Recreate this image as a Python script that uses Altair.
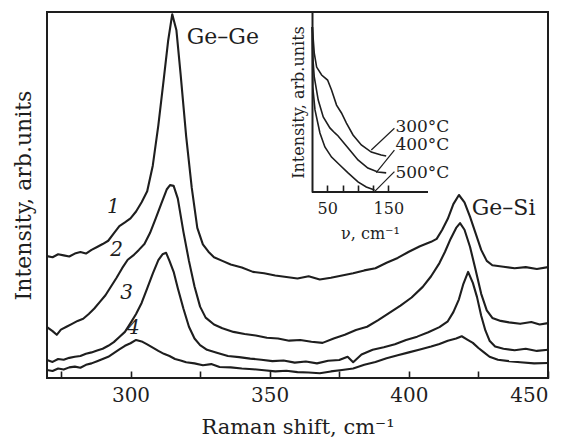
import altair as alt
import pandas as pd

FONT = "DejaVu Serif"
INK = "#1e1e1e"

# ---------------- main spectra (Raman shift, cm-1 ; intensity arb. units) ----------------
c1_x = [270, 272, 274, 276, 278, 280, 282, 284, 286, 288, 290, 292, 294, 296, 298, 300, 302, 304, 306, 308,
        310, 312, 313.5, 315, 316.5, 318, 320, 322, 324, 326, 328, 330, 333, 336, 340, 344, 348, 352, 356, 360,
        364, 368, 372, 376, 380, 384, 388, 392, 396, 400, 404, 408, 410, 412, 414, 416, 418, 420, 422, 424,
        426, 428, 430, 434, 438, 442, 446, 450]
c1_y = [33.3, 33.0, 33.8, 33.5, 33.2, 34.0, 34.4, 34.0, 35.0, 35.8, 36.6, 37.5, 39.5, 41.5, 42.5, 43.6, 45.5, 48.0, 51.0, 58.0,
        69.0, 82.0, 92.0, 99.4, 95.0, 83.0, 66.0, 52.0, 41.0, 36.5, 34.5, 33.0, 32.0, 31.0, 30.2, 29.0, 28.6, 28.0, 27.6, 27.2,
        27.8, 26.9, 27.4, 28.0, 28.6, 29.4, 30.0, 31.5, 32.8, 34.5, 36.0, 37.2, 38.0, 40.5, 43.5, 47.5, 50.0, 48.0, 44.0, 39.5,
        35.0, 32.0, 30.8, 30.4, 30.0, 30.3, 29.8, 30.3]

c2_x = [270, 272, 273.5, 275, 277, 279, 281, 283, 285, 287, 289, 291, 293, 295, 297, 299, 301, 303, 305, 307,
        309, 311, 313, 314.2, 315.5, 317, 319, 321, 323, 325, 327, 330, 333, 337, 341, 345, 349, 353, 357, 361,
        365, 369, 373, 377, 381, 385, 389, 393, 397, 401, 405, 408, 411, 413, 415, 417, 418.4, 420, 422, 424,
        426, 428, 430, 433, 436, 440, 444, 447, 450]
c2_y = [13.9, 12.8, 11.8, 13.2, 14.0, 14.8, 15.6, 16.2, 17.5, 19.0, 20.8, 22.6, 25.0, 27.4, 30.0, 32.3, 33.5, 35.0, 36.6, 39.6,
        43.5, 47.5, 51.5, 52.7, 52.5, 49.0, 40.0, 32.0, 25.0, 19.5, 16.5, 14.6, 13.6, 12.6, 12.0, 11.6, 11.0, 10.8, 10.2, 10.4,
        9.9, 9.6, 10.8, 11.8, 13.1, 14.0, 15.8, 17.8, 19.8, 22.0, 24.9, 27.8, 31.4, 34.5, 38.0, 41.0, 42.3, 40.5, 35.8, 29.5,
        23.0, 18.5, 16.4, 15.6, 15.2, 14.8, 15.3, 14.6, 15.0]

c3_x = [270, 272, 274, 276, 278, 280, 282, 284, 286, 288, 290, 292, 294, 296, 298, 300, 302, 304, 306, 308,
        310, 311.5, 312.8, 314, 315.5, 317, 319, 321, 323, 325, 327.5, 331, 335, 339, 343, 347, 351, 355, 359, 363,
        367, 371, 375, 378, 380, 383, 387, 391, 395, 399, 403, 407, 411, 414, 416, 418, 419.5, 421.3, 423, 424.5,
        426, 427.5, 429, 431, 434, 438, 442, 446, 450]
c3_y = [4.9, 4.4, 5.2, 5.0, 5.5, 5.8, 6.0, 6.6, 7.0, 7.5, 8.0, 8.8, 9.8, 11.2, 12.6, 15.0, 17.5, 20.5, 24.5, 28.5,
        32.2, 33.8, 34.2, 32.0, 29.0, 24.5, 19.0, 14.0, 10.8, 9.0, 7.7, 6.9, 6.0, 5.7, 5.3, 5.0, 4.6, 4.8, 4.2, 4.5,
        4.0, 4.7, 4.9, 5.8, 4.3, 6.4, 7.7, 8.4, 9.2, 10.4, 11.3, 12.5, 13.9, 15.5, 18.0, 21.5, 25.5, 29.0, 26.0, 22.1,
        17.0, 13.0, 10.2, 8.6, 8.0, 7.6, 8.0, 7.4, 7.7]

c4_x = [270, 272, 274, 276, 278, 280, 282, 284, 286, 288, 290, 292, 294, 296, 298, 300, 302, 304, 306, 308,
        310, 312, 314, 316, 318, 320, 323, 326, 329, 332, 336, 340, 344, 348, 352, 356, 360, 364, 368, 372,
        376, 380, 384, 388, 392, 396, 400, 404, 408, 411, 414, 417, 419, 421, 423, 425, 427, 429, 432, 436,
        440, 445, 450]
c4_y = [2.2, 1.9, 2.6, 2.3, 2.9, 3.1, 2.8, 3.6, 4.0, 4.6, 5.2, 5.8, 6.8, 7.8, 8.8, 9.5, 10.4, 10.0, 9.2, 8.3,
        7.4, 6.6, 6.0, 5.2, 4.8, 4.3, 4.0, 3.5, 3.8, 3.0, 2.9, 2.6, 2.4, 2.1, 1.8, 2.0, 1.6, 1.5, 1.3, 1.8,
        2.2, 2.6, 3.6, 4.4, 5.4, 6.2, 7.0, 7.8, 8.6, 9.3, 10.2, 10.8, 11.4, 10.5, 9.6, 8.2, 7.0, 5.8, 5.0, 4.6,
        4.3, 4.0, 4.1]

curve_names = ["1", "2", "3", "4"]
curve_label_x = [293.8, 295.0, 298.6, 301.0]
curve_label_y = [46.8, 35.0, 23.1, 13.6]

peak_names = ["Ge\u2013Ge", "Ge\u2013Si"]
peak_label_x = [320.2, 422.6]
peak_label_y = [93.2, 46.4]

main_ticks = [275, 300, 325, 350, 375, 400, 425, 450]

# ---------------- inset (low-frequency spectra) ----------------
i300_x = [25.5, 28.7, 32.6, 40.8, 50.5, 57.0, 65.2, 73.3, 81.4, 92.2, 105.8, 122.1, 138.3, 146.5]
i300_y = [91.7, 77.2, 69.4, 65.0, 62.2, 56.7, 48.3, 43.9, 38.3, 31.7, 26.1, 22.2, 20.6, 20.0]
i400_x = [25.5, 26.3, 28.7, 35.2, 43.4, 54.3, 62.4, 67.8, 75.9, 86.8, 100.3, 116.5, 132.8, 146.5]
i400_y = [91.7, 75.0, 63.9, 51.1, 41.7, 35.6, 32.8, 31.1, 27.8, 23.3, 17.8, 13.3, 11.1, 10.6]
i500_x = [25.5, 26.3, 29.9, 38.0, 46.1, 57.0, 70.5, 84.0, 100.3, 113.9, 127.4]
i500_y = [91.7, 58.3, 45.6, 32.8, 25.0, 19.4, 15.0, 10.6, 5.6, 2.8, 1.1]

inset_names = ["300\u00b0C", "400\u00b0C", "500\u00b0C"]
inset_label_x = [161.6, 161.6, 161.6]
inset_label_y = [36.3, 26.1, 10.6]
leader_x1 = [160.0, 160.0, 160.0]
leader_y1 = [35.4, 23.3, 11.3]
leader_x2 = [122.1, 130.2, 127.4]
leader_y2 = [23.3, 10.7, 0.2]
inset_ticks = [50, 75, 100, 125, 150]

# ---------------- tables ----------------
rows = []
for name, xs, ys in zip(curve_names, [c1_x, c2_x, c3_x, c4_x], [c1_y, c2_y, c3_y, c4_y]):
    rows += [{"curve": name, "x": a, "y": b} for a, b in zip(xs, ys)]
main_df = pd.DataFrame(rows)
num_df = pd.DataFrame({"t": curve_names, "x": curve_label_x, "y": curve_label_y})
peak_df = pd.DataFrame({"t": peak_names, "x": peak_label_x, "y": peak_label_y})

irows = []
for name, xs, ys in zip(inset_names, [i300_x, i400_x, i500_x], [i300_y, i400_y, i500_y]):
    irows += [{"curve": name, "x": a, "y": b} for a, b in zip(xs, ys)]
inset_df = pd.DataFrame(irows)
ilab_df = pd.DataFrame({"t": inset_names, "x": inset_label_x, "y": inset_label_y})
lead_df = pd.DataFrame({"x": leader_x1, "y": leader_y1, "x2": leader_x2, "y2": leader_y2})
base_df = pd.DataFrame({"x": [25], "x2": [215], "y": [0]})

W, H = 501, 366


def xs_main():
    return alt.Scale(domain=[270, 450], nice=False, zero=False)


def ys_main():
    return alt.Scale(domain=[0, 100], nice=False, zero=False)


def xs_in():
    return alt.Scale(domain=[25, 215], range=[265, 381], nice=False, zero=False)


def ys_in():
    return alt.Scale(domain=[0, 100], range=[180, 0], nice=False, zero=False)


lines = alt.Chart(main_df).mark_line(color=INK, strokeWidth=2.1, strokeJoin="round").encode(
    x=alt.X("x:Q", scale=xs_main(), axis=alt.Axis(
        orient="bottom", values=main_ticks, offset=-7, tickSize=7, tickWidth=1.6, tickColor=INK,
        domain=False, grid=False,
        labelExpr="datum.value % 50 == 0 ? datum.label : ''", labelPadding=7, labelFontSize=20,
        labelFont=FONT, labelColor=INK, title="Raman shift, cm\u207b\u00b9", titleFont=FONT, titleFontSize=21,
        titleFontWeight="normal", titleColor=INK, titlePadding=11)),
    y=alt.Y("y:Q", scale=ys_main(), axis=alt.Axis(
        orient="left", labels=False, ticks=False, domain=False, grid=False, title="Intensity, arb.units",
        titleFont=FONT, titleFontSize=22, titleFontWeight="normal", titleColor=INK, titlePadding=12)),
    detail="curve:N",
)
nums = alt.Chart(num_df).mark_text(font=FONT, fontSize=20, fontStyle="italic", color=INK,
                                   align="center", baseline="middle").encode(
    x=alt.X("x:Q", scale=xs_main(), axis=None), y=alt.Y("y:Q", scale=ys_main(), axis=None), text="t:N")
peaks = alt.Chart(peak_df).mark_text(font=FONT, fontSize=22, color=INK,
                                     align="left", baseline="middle").encode(
    x=alt.X("x:Q", scale=xs_main(), axis=None), y=alt.Y("y:Q", scale=ys_main(), axis=None), text="t:N")

ilines = alt.Chart(inset_df).mark_line(color=INK, strokeWidth=1.6).encode(
    x=alt.X("x:Q", scale=xs_in(), axis=alt.Axis(
        orient="bottom", values=inset_ticks, offset=-193, tickSize=7, tickWidth=1.6, tickColor=INK,
        domain=False, grid=False, labelExpr="datum.value == 50 || datum.value == 150 ? datum.label : ''",
        labelPadding=8, labelFontSize=16, labelFont=FONT, labelColor=INK,
        title="\u03bd, cm\u207b\u00b9", titleFont=FONT, titleFontSize=16, titleFontWeight="normal",
        titleColor=INK, titlePadding=9)),
    y=alt.Y("y:Q", scale=ys_in(), axis=alt.Axis(
        orient="left", offset=-265, labels=False, ticks=False, domain=True, domainColor=INK, domainWidth=2,
        grid=False, title="Intensity, arb.units", titleFont=FONT, titleFontSize=16,
        titleFontWeight="normal", titleColor=INK, titlePadding=6)),
    detail="curve:N",
)
ibase = alt.Chart(base_df).mark_rule(color=INK, strokeWidth=2).encode(
    x=alt.X("x:Q", scale=xs_in(), axis=None), x2="x2:Q", y=alt.Y("y:Q", scale=ys_in(), axis=None))
ilead = alt.Chart(lead_df).mark_rule(color=INK, strokeWidth=1.2).encode(
    x=alt.X("x:Q", scale=xs_in(), axis=None), x2="x2:Q",
    y=alt.Y("y:Q", scale=ys_in(), axis=None), y2="y2:Q")
ilabs = alt.Chart(ilab_df).mark_text(font=FONT, fontSize=17, color=INK, align="left",
                                     baseline="middle").encode(
    x=alt.X("x:Q", scale=xs_in(), axis=None), y=alt.Y("y:Q", scale=ys_in(), axis=None), text="t:N")

chart = alt.layer(lines, nums, peaks, ilines, ibase, ilead, ilabs).resolve_scale(
    x="independent", y="independent"
).properties(
    width=W, height=H,
    background="white",
    autosize=alt.AutoSizeParams(type="none"),
    padding={"left": 39, "top": 4, "right": 12, "bottom": 62},
).configure_view(stroke=INK, strokeWidth=2)

chart.save("out.html", embed_options={"renderer": "svg", "actions": False})
